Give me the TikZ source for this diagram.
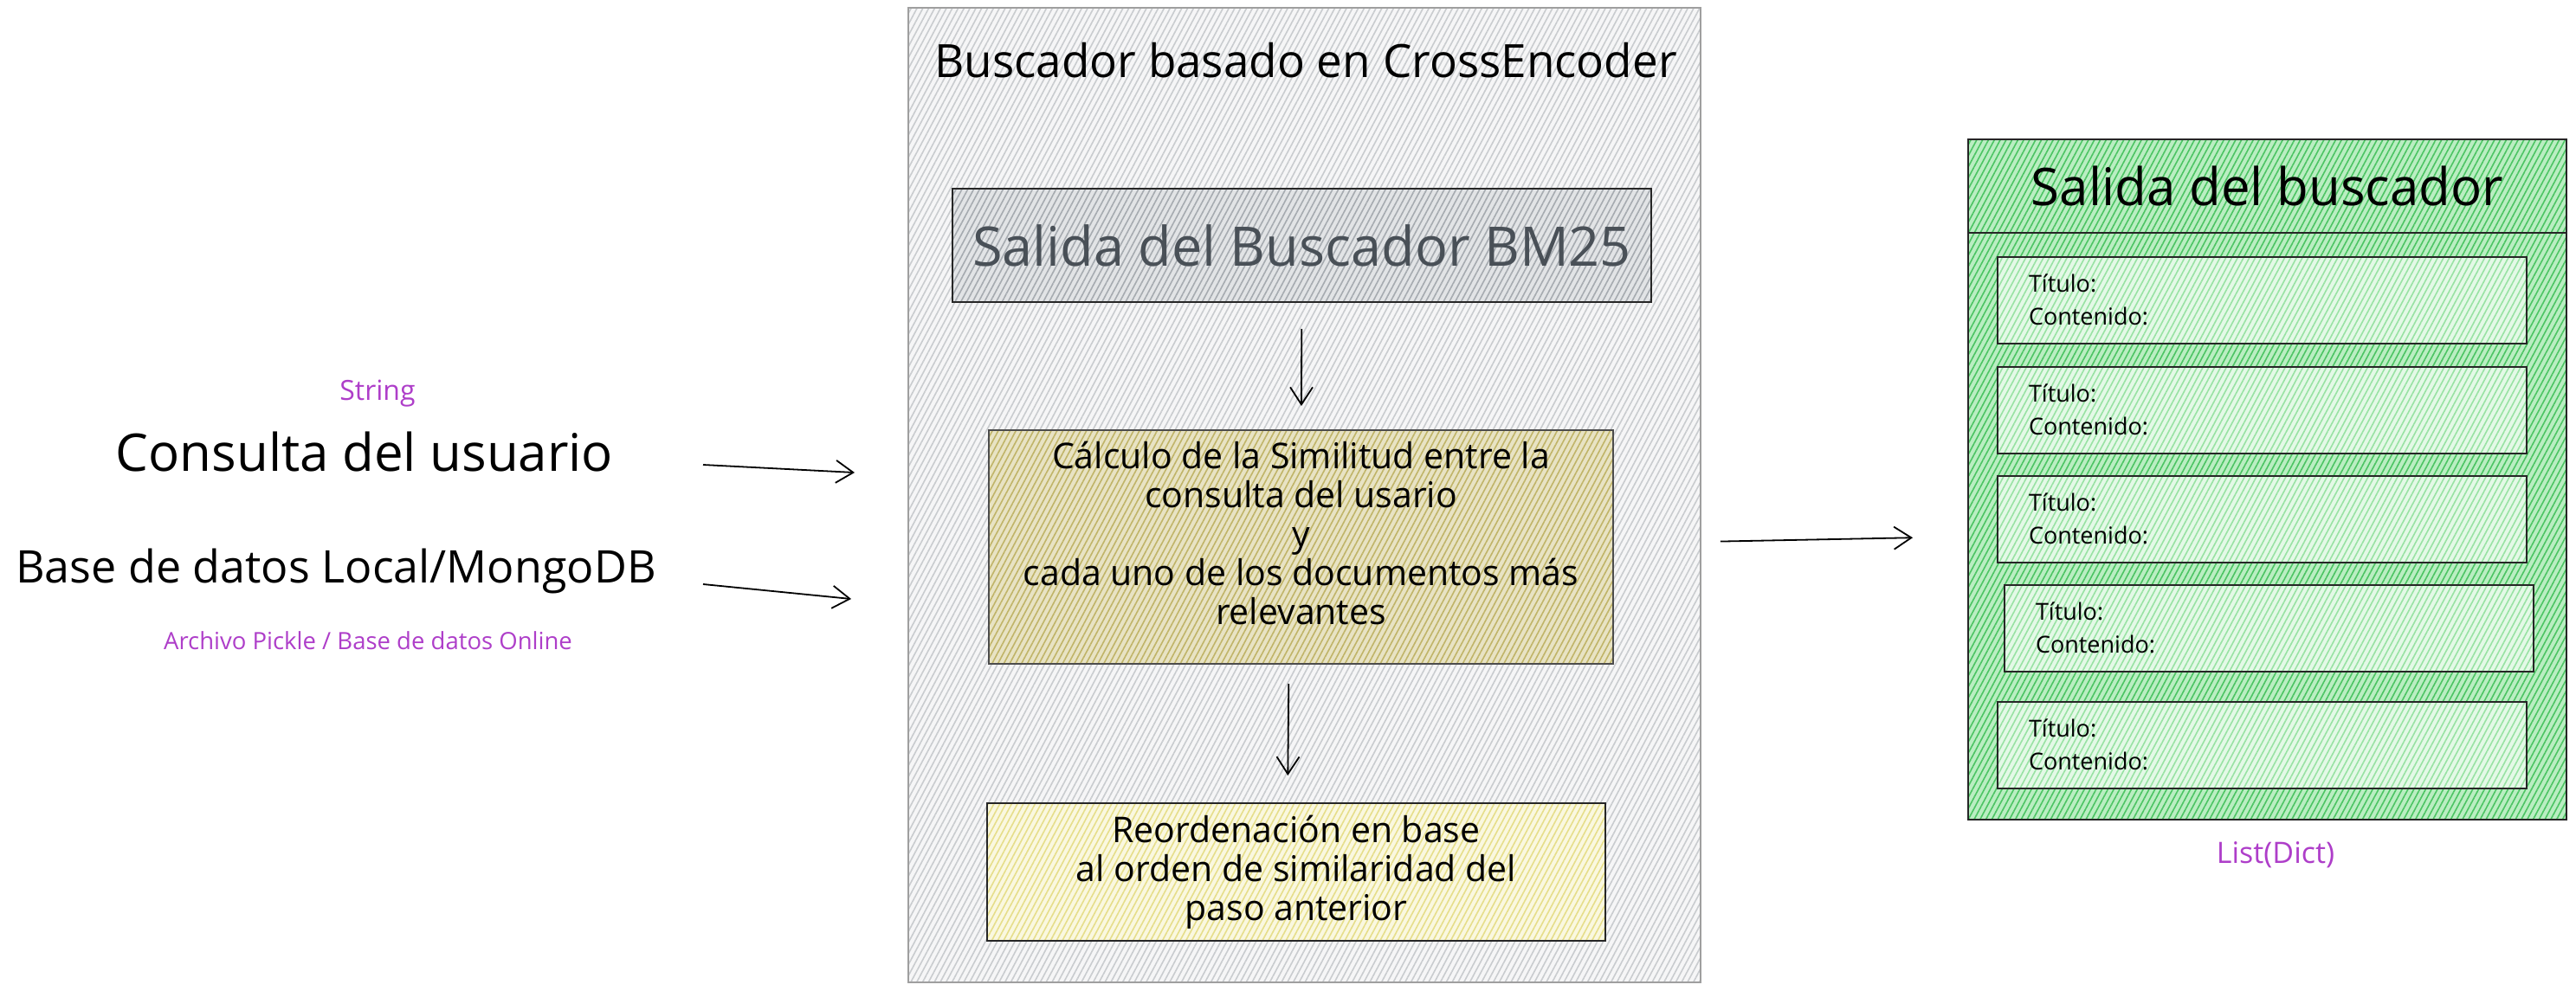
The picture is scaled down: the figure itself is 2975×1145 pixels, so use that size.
\documentclass[tikz,border=0pt]{standalone}
\usepackage{fontspec}
\setmainfont{Open Sans}
\usetikzlibrary{positioning,arrows.meta,patterns.meta}

\definecolor{grisPanel}{HTML}{F6F6F7}
\definecolor{grisLinea}{HTML}{C9CCCF}
\definecolor{grisBM}{HTML}{E2E4E6}
\definecolor{grisBMLinea}{HTML}{A6ABB0}
\definecolor{textoBM}{HTML}{495057}
\definecolor{caqui}{HTML}{E8E3C4}
\definecolor{caquiLinea}{HTML}{C0B468}
\definecolor{amarillo}{HTML}{FAF8E0}
\definecolor{amarilloLinea}{HTML}{E6DE8A}
\definecolor{verde}{HTML}{BAEEC2}
\definecolor{verdeLinea}{HTML}{4CC463}
\definecolor{verdeClaro}{HTML}{E4F9E7}
\definecolor{verdeClaroLinea}{HTML}{98E2A3}
\definecolor{morado}{HTML}{AE3EC9}

\begin{document}
\begin{tikzpicture}[
  x=1pt, y=-1pt,
  rotulo/.style={font=\fontsize{#1}{#1}\selectfont, inner sep=0pt},
  tipo/.style={rotulo=#1, text=morado},
  medio/.style={font=\fontsize{41}{45}\selectfont},
  chico/.style={font=\fontsize{27}{38}\selectfont},
  hatch/.style 2 args={preaction={fill=#1}, pattern={Lines[angle=62,distance=6pt,line width=1.6pt]}, pattern color=#2},
  box/.style={draw=black!85, line width=2pt, align=center, inner sep=0pt},
  item/.style={box, hatch={verdeClaro}{verdeClaroLinea}, chico, align=left, text width=539pt, inner xsep=36pt, minimum width=611pt, minimum height=100pt},
  arr/.style={-{Straight Barb[length=20pt,width=26pt]}, line width=1.8pt}
]
\useasboundingbox (0,0) rectangle (2975,1145);

% Entradas
\node[rotulo=60] (consulta) at (421,522) {Consulta del usuario};
\node[tipo=32] (string) at (436,455) {String};
\node[rotulo=52] (base) at (388,660) {Base de datos Local/MongoDB};
\node[tipo=27.5] (archivo) at (425,740) {Archivo Pickle / Base de datos Online};

% Panel del buscador
\node[box, draw=gray!75, hatch={grisPanel}{grisLinea}, minimum width=915pt, minimum height=1126pt] (panel) at (1506.5,572) {};
\node[rotulo=53] (titulo) at (1508,70) {Buscador basado en CrossEncoder};
\node[box, hatch={grisBM}{grisBMLinea}, text=textoBM, font=\fontsize{63}{70}\selectfont, minimum width=807pt, minimum height=131pt] (bm25) at (1503.5,283.5) {Salida del Buscador BM25};
\node[box, draw=black!70, hatch={caqui}{caquiLinea}, medio, minimum width=721pt, minimum height=270pt] (similitud) at (1502.5,632) {Cálculo de la Similitud entre la\\consulta del usario\\y\\cada uno de los documentos más\\relevantes\\[-13pt]\mbox{}};
\node[box, hatch={amarillo}{amarilloLinea}, medio, minimum width=714pt, minimum height=159pt] (reorden) at (1497,1007.5) {Reordenación en base\\al orden de similaridad del\\paso anterior};

% Salida
\node[box, hatch={verde}{verdeLinea}, minimum width=691pt, minimum height=786pt] (salida) at (2618.5,554) {};
\node[box, hatch={verde}{verdeLinea}, rotulo=60, minimum width=691pt, minimum height=108pt, anchor=north] (cabecera) at (salida.north) {Salida del buscador};

\node[item] (doc1) at (2612.5,346.5) {Título:\\Contenido:};
\node[item, below=25pt of doc1] (doc2) {Título:\\Contenido:};
\node[item, below=24pt of doc2] (doc3) {Título:\\Contenido:};
\node[item, below=24pt of doc3, xshift=8pt] (doc4) {Título:\\Contenido:};
\node[item, below=33pt of doc4, xshift=-8pt] (doc5) {Título:\\Contenido:};
\node[tipo=34] (lista) at (2628,988) {List(Dict)};

% Flechas
\coordinate (q1) at (812,537);
\coordinate (q2) at (987,546);
\coordinate (b1) at (812,675);
\coordinate (b2) at (983,692);
\draw[arr] (q1) -- (q2);
\draw[arr] (b1) -- (b2);
\draw[arr, shorten <=30pt, shorten >=27pt] (bm25) -- (similitud);
\draw[arr, shorten <=22pt, shorten >=31pt] ([xshift=-14pt]similitud.south) -- ([xshift=-10pt]reorden.north);
\draw[arr, shorten <=22pt, shorten >=63pt] ([yshift=-54pt]panel.east) -- ([yshift=-66pt]salida.west);

\end{tikzpicture}
\end{document}
